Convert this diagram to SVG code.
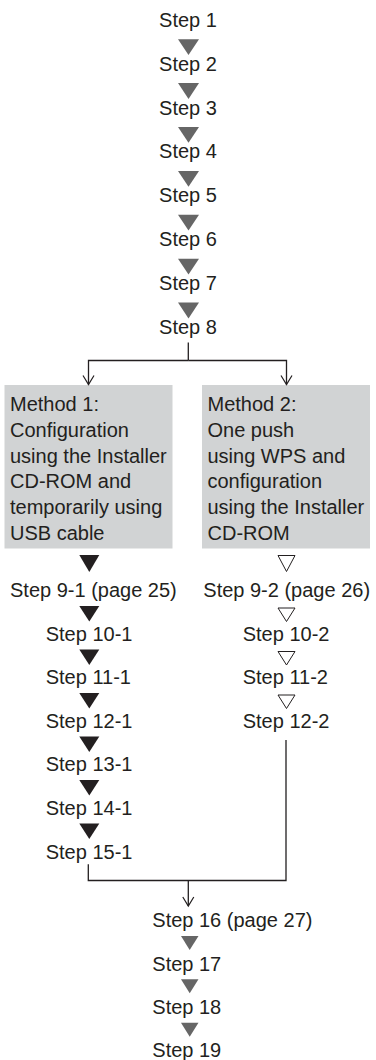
<svg xmlns="http://www.w3.org/2000/svg" width="376" height="1060" viewBox="0 0 376 1060">
<style>
text{font-family:"Liberation Sans",Arial,sans-serif;font-size:20px;fill:#231f20}
.c{text-anchor:middle}
.box{fill:#d1d3d4}
.gt{fill:#666666}
.bt{fill:#231f20}
.ot{fill:#ffffff;stroke:#231f20;stroke-width:1}
.ln{fill:none;stroke:#231f20;stroke-width:1.3}
</style>
<defs>
<marker id="ah" markerWidth="12" markerHeight="14" refX="10" refY="6" orient="auto" markerUnits="userSpaceOnUse" viewBox="0 0 12 12">
<path d="M1,0.5 L10,6 L1,11.5" fill="none" stroke="#231f20" stroke-width="1.2"/>
</marker>
</defs>
<rect width="376" height="1060" fill="#ffffff"/>
<g id="step1"><text class="c" x="188" y="26.7">Step 1</text></g>
<g id="step2"><text class="c" x="188" y="70.6">Step 2</text></g>
<g id="step3"><text class="c" x="188" y="114.5">Step 3</text></g>
<g id="step4"><text class="c" x="188" y="158.4">Step 4</text></g>
<g id="step5"><text class="c" x="188" y="202.3">Step 5</text></g>
<g id="step6"><text class="c" x="188" y="246.2">Step 6</text></g>
<g id="step7"><text class="c" x="188" y="290.1">Step 7</text></g>
<g id="step8"><text class="c" x="188" y="334">Step 8</text></g>
<g id="method1">
<rect class="box" x="4.5" y="385" width="168" height="163.5"/>
<text x="10" y="411">Method 1:</text>
<text x="10" y="436.8">Configuration</text>
<text x="10" y="462.6">using the Installer</text>
<text x="10" y="488.4">CD-ROM and</text>
<text x="10" y="514.2">temporarily using</text>
<text x="10" y="540">USB cable</text>
</g>
<g id="method2">
<rect class="box" x="202" y="385" width="168" height="163.5"/>
<text x="207.5" y="411">Method 2:</text>
<text x="207.5" y="436.8">One push</text>
<text x="207.5" y="462.6">using WPS and</text>
<text x="207.5" y="488.4">configuration</text>
<text x="207.5" y="514.2">using the Installer</text>
<text x="207.5" y="540">CD-ROM</text>
</g>
<g id="step9-1"><text x="10" y="597">Step 9-1 (page 25)</text></g>
<g id="step10-1"><text x="45.7" y="640.5">Step 10-1</text></g>
<g id="step11-1"><text x="45.7" y="684">Step 11-1</text></g>
<g id="step12-1"><text x="45.7" y="727.5">Step 12-1</text></g>
<g id="step13-1"><text x="45.7" y="771">Step 13-1</text></g>
<g id="step14-1"><text x="45.7" y="814.5">Step 14-1</text></g>
<g id="step15-1"><text x="45.7" y="859">Step 15-1</text></g>
<g id="step9-2"><text x="203.3" y="597">Step 9-2 (page 26)</text></g>
<g id="step10-2"><text x="242.7" y="640.5">Step 10-2</text></g>
<g id="step11-2"><text x="242.7" y="684">Step 11-2</text></g>
<g id="step12-2"><text x="242.7" y="727.5">Step 12-2</text></g>
<g id="step16"><text x="152.3" y="927.3">Step 16 (page 27)</text></g>
<g id="step17"><text x="152.3" y="970.6">Step 17</text></g>
<g id="step18"><text x="152.3" y="1014">Step 18</text></g>
<g id="step19"><text x="152.3" y="1057.3">Step 19</text></g>
<g id="connectors">
<g class="gt">
<polygon points="178,39.2 199,39.2 188.5,55"/>
<polygon points="178,83.1 199,83.1 188.5,98.9"/>
<polygon points="178,127 199,127 188.5,142.8"/>
<polygon points="178,170.9 199,170.9 188.5,186.7"/>
<polygon points="178,214.8 199,214.8 188.5,230.6"/>
<polygon points="178,258.7 199,258.7 188.5,274.5"/>
<polygon points="178,302.6 199,302.6 188.5,318.4"/>
<polygon points="181,936 198.5,936 189.7,950"/>
<polygon points="181,979.3 198.5,979.3 189.7,993.3"/>
<polygon points="181,1022.7 198.5,1022.7 189.7,1036.7"/>
</g>
<g class="bt">
<polygon points="79.3,555 99.3,555 89.3,572"/>
<polygon points="79.3,606 99.3,606 89.3,621.5"/>
<polygon points="79.3,649.5 99.3,649.5 89.3,665"/>
<polygon points="79.3,693 99.3,693 89.3,708.5"/>
<polygon points="79.3,736.5 99.3,736.5 89.3,752"/>
<polygon points="79.3,780 99.3,780 89.3,795.5"/>
<polygon points="79.3,823.5 99.3,823.5 89.3,839"/>
</g>
<g class="ot">
<polygon points="278,555.5 295,555.5 286.5,571.5"/>
<polygon points="278,608 295,608 286.5,621.5"/>
<polygon points="278,651.5 295,651.5 286.5,665"/>
<polygon points="278,695 295,695 286.5,708.5"/>
</g>
<path class="ln" d="M188.3,342.5 V360.5"/>
<path class="ln" d="M188.3,360.5 H88.5 V384.5" marker-end="url(#ah)"/>
<path class="ln" d="M188.3,360.5 H286.5 V384.5" marker-end="url(#ah)"/>
<path class="ln" d="M286,740 V880.5 H88.3 V864.3"/>
<path class="ln" d="M188.3,880.5 V906" marker-end="url(#ah)"/>
</g>
</svg>
